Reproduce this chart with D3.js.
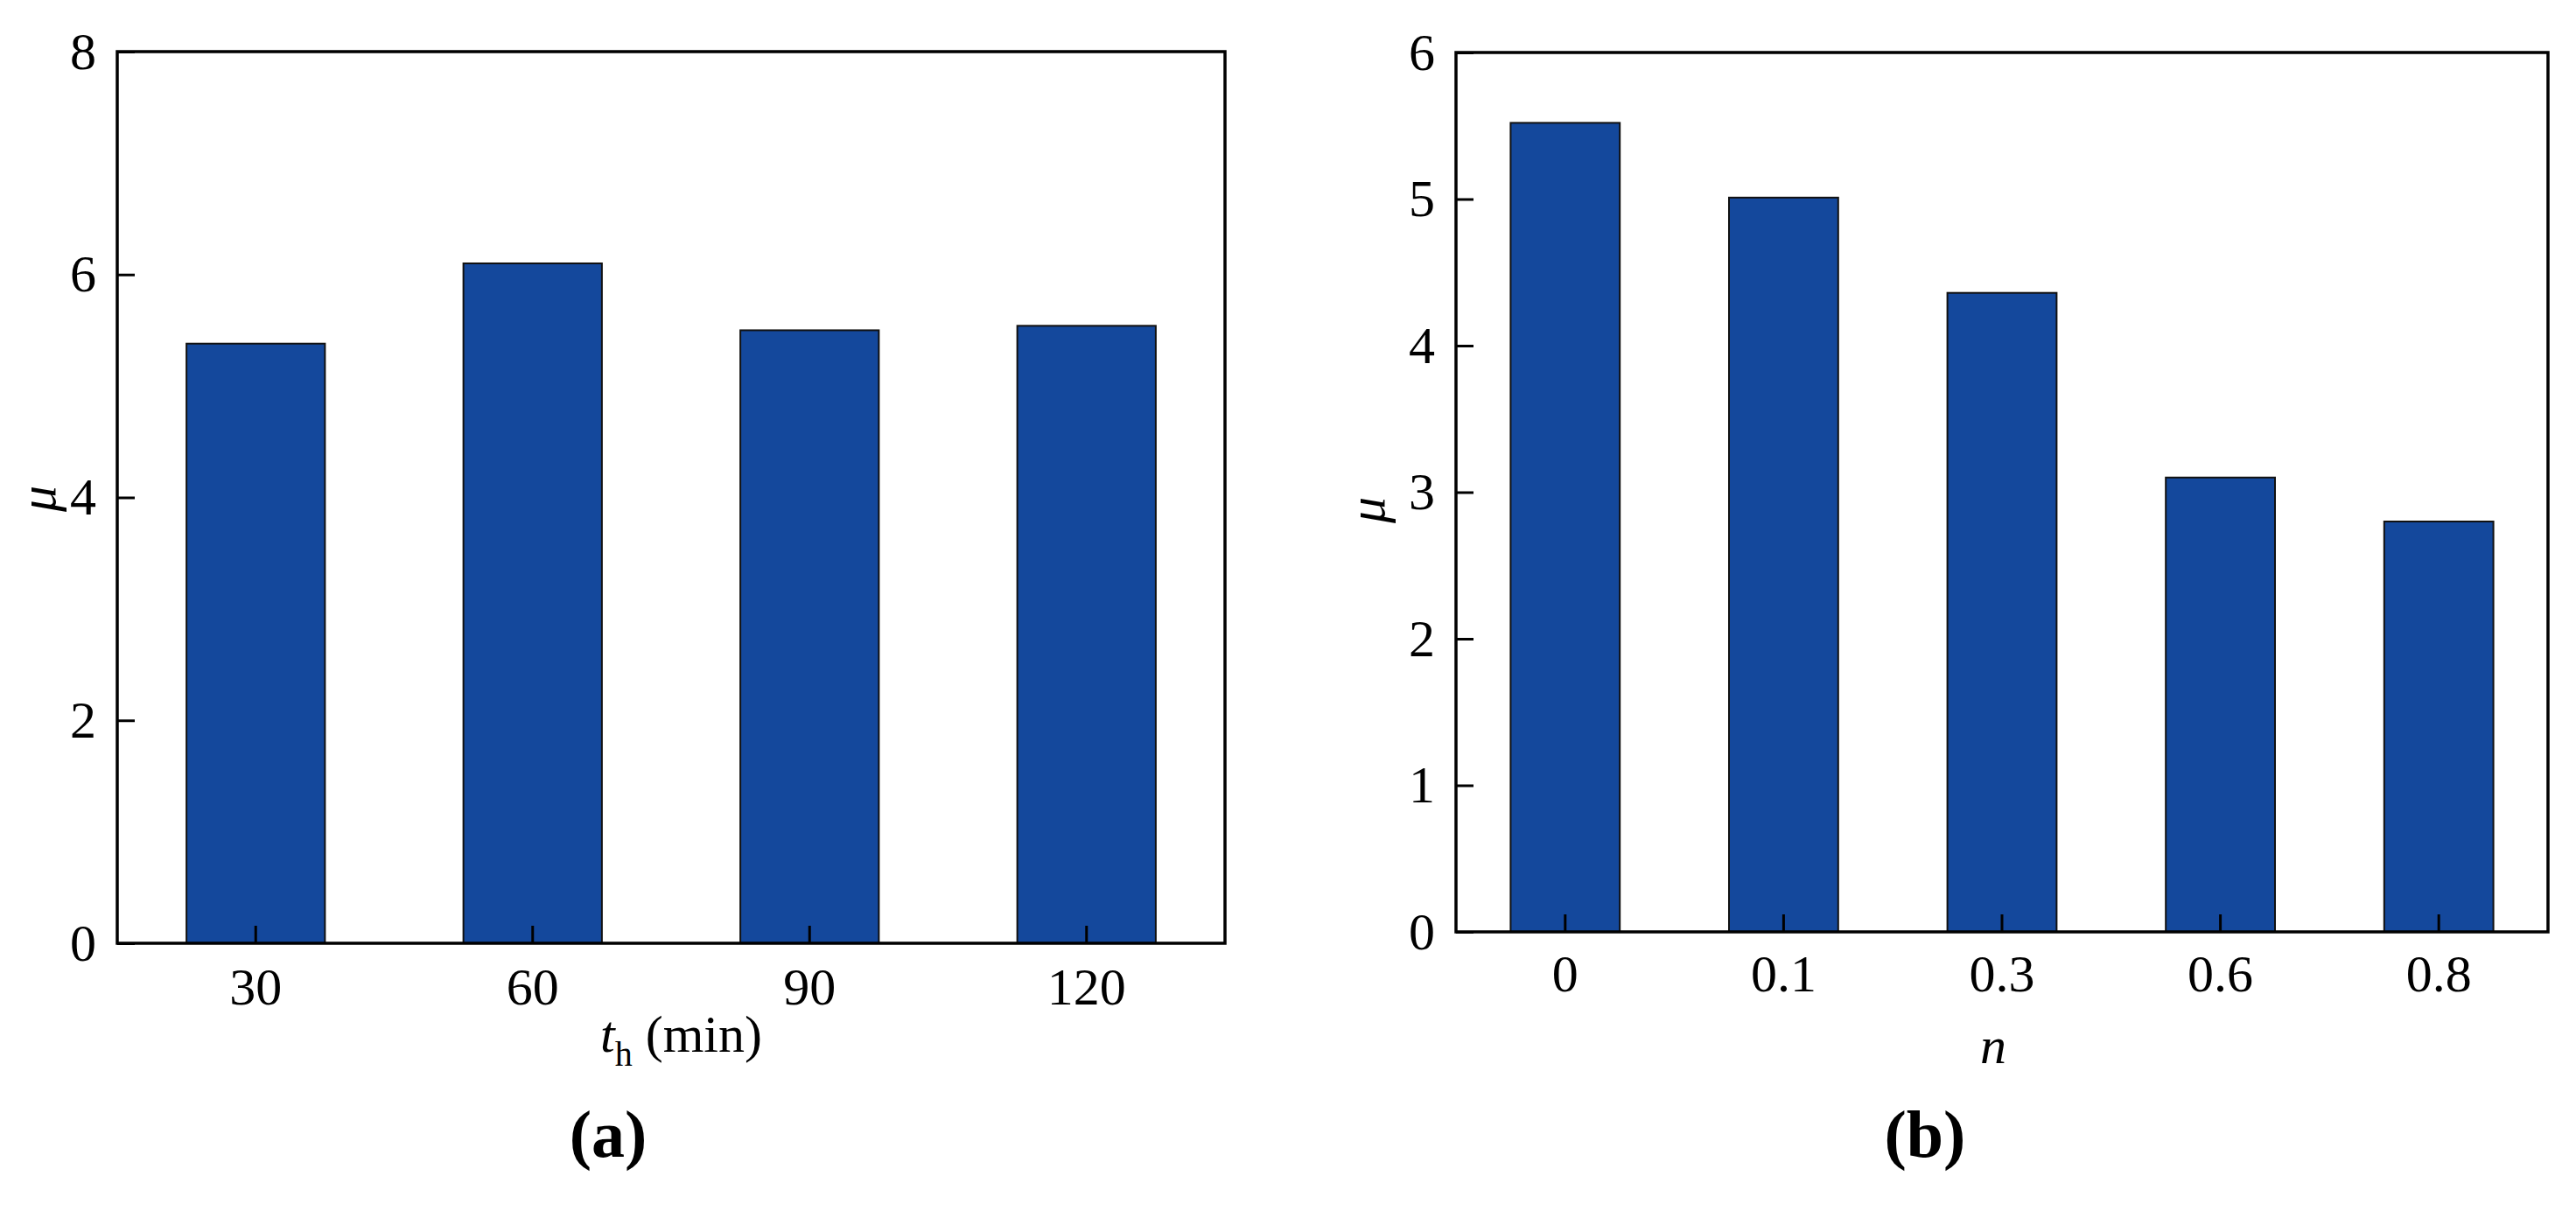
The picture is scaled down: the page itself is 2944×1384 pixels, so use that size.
<!DOCTYPE html>
<html>
<head>
<meta charset="utf-8">
<script src="https://cdn.jsdelivr.net/npm/d3@7"></script>
<style>
  html, body { margin: 0; padding: 0; background: #fff; }
  svg { display: block; }
  text { font-family: "Liberation Serif", "Times New Roman", serif; fill: #000; }
</style>
</head>
<body>
<svg id="chart" width="2944" height="1384"></svg>
<script>
// ---- Data: panel (a) ----
const catsA = ["30", "60", "90", "120"];
const valsA = [5.38, 6.10, 5.50, 5.54];
const ticksA = [0, 2, 4, 6, 8];

// ---- Data: panel (b) ----
const catsB = ["0", "0.1", "0.3", "0.6", "0.8"];
const valsB = [5.52, 5.01, 4.36, 3.10, 2.80];
const ticksB = [0, 1, 2, 3, 4, 5, 6];

const svg = d3.select("#chart");
const BAR_FILL = "#14489c";
const FONT = 60;

function panel(opts) {
  const { x0, x1, y0, y1, cats, vals, ticks, yMax, xPad } = opts;
  const g = svg.append("g");
  const x = d3.scaleBand().domain(cats).range([x0, x1]).paddingInner(0.5).paddingOuter(0.25);
  const y = d3.scaleLinear().domain([0, yMax]).range([y1, y0]);

  // bars
  g.selectAll("rect.bar").data(vals).join("rect")
    .attr("class", "bar")
    .attr("x", (d, i) => x(cats[i]))
    .attr("y", d => y(d))
    .attr("width", x.bandwidth())
    .attr("height", d => y(0) - y(d))
    .attr("fill", BAR_FILL)
    .attr("stroke", "#111")
    .attr("stroke-width", 2);

  // y axis
  const ya = g.append("g").attr("transform", `translate(${x0},0)`)
    .call(d3.axisLeft(y).tickValues(ticks).tickFormat(d3.format("d"))
      .tickSizeInner(-20).tickSizeOuter(0).tickPadding(24));
  ya.select(".domain").remove();
  ya.selectAll(".tick line").attr("stroke", "#000").attr("stroke-width", 3);
  ya.selectAll(".tick text").attr("font-size", FONT).attr("font-family", "Liberation Serif");

  // x axis
  const xc = d3.scaleBand().domain(cats).range([x0, x1]).paddingInner(0.5).paddingOuter(0.25);
  const xa = g.append("g").attr("transform", `translate(0,${y1})`)
    .call(d3.axisBottom(xc).tickSizeInner(-20).tickSizeOuter(0).tickPadding(xPad));
  xa.select(".domain").remove();
  xa.selectAll(".tick line").attr("stroke", "#000").attr("stroke-width", 3);
  xa.selectAll(".tick text").attr("font-size", FONT).attr("font-family", "Liberation Serif");

  // frame
  g.append("rect")
    .attr("x", x0).attr("y", y0)
    .attr("width", x1 - x0).attr("height", y1 - y0)
    .attr("fill", "none").attr("stroke", "#000").attr("stroke-width", 3.5);

  return g;
}

// Panel (a)
panel({ x0: 134, x1: 1400, y0: 59, y1: 1078, cats: catsA, vals: valsA, ticks: ticksA, yMax: 8, xPad: 27 });
// Panel (b)
panel({ x0: 1664, x1: 2912, y0: 60, y1: 1065, cats: catsB, vals: valsB, ticks: ticksB, yMax: 6, xPad: 25 });

// Y labels (μ)
svg.append("text")
  .attr("transform", "translate(43,570) rotate(-90)")
  .attr("text-anchor", "middle").attr("dominant-baseline", "central")
  .attr("font-size", FONT).attr("font-style", "italic")
  .text("μ");
svg.append("text")
  .attr("transform", "translate(1562,583) rotate(-90)")
  .attr("text-anchor", "middle").attr("dominant-baseline", "central")
  .attr("font-size", FONT).attr("font-style", "italic")
  .text("μ");

// X label (a): t_h (min)
const xl = svg.append("text")
  .attr("x", 686).attr("y", 1202)
  .attr("font-size", FONT);
xl.append("tspan").attr("font-style", "italic").text("t");
xl.append("tspan").attr("font-size", 40).attr("dy", 16).text("h");
xl.append("tspan").attr("dy", -16).text(" (min)");

// X label (b): n
svg.append("text")
  .attr("x", 2278).attr("y", 1215)
  .attr("text-anchor", "middle")
  .attr("font-size", FONT).attr("font-style", "italic")
  .text("n");

// Panel letters
svg.append("text").attr("x", 695).attr("y", 1322)
  .attr("text-anchor", "middle").attr("font-size", 76).attr("font-weight", "bold")
  .text("(a)");
svg.append("text").attr("x", 2200).attr("y", 1322)
  .attr("text-anchor", "middle").attr("font-size", 76).attr("font-weight", "bold")
  .text("(b)");
</script>
</body>
</html>
